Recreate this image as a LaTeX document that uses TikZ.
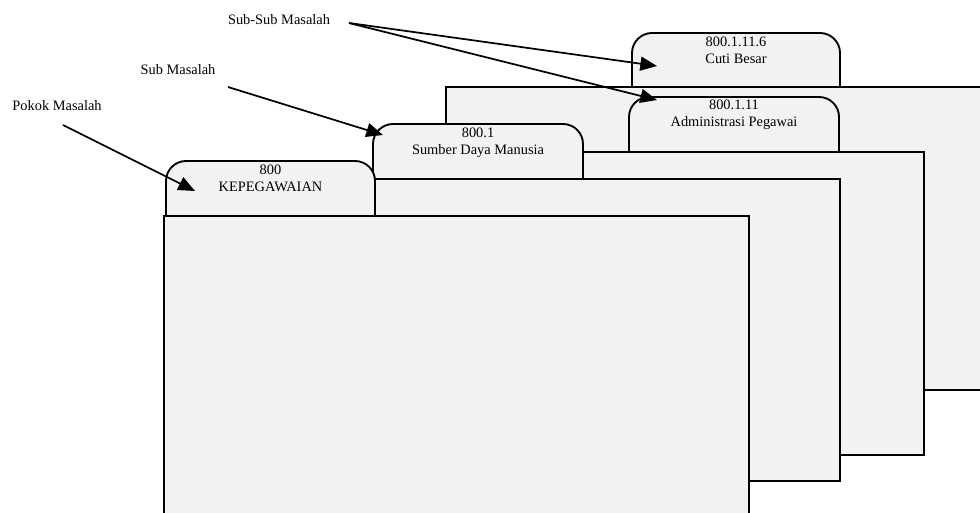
\documentclass[tikz,border=0pt]{standalone}
\usepackage{fontspec}
\setmainfont{Liberation Serif}
\usetikzlibrary{arrows.meta}

\tikzset{
  body/.style={draw, line width=1.4pt, fill=gray!10},
  tab/.style={body, rounded corners=15pt},
  tabtext/.style={anchor=north, align=center, inner sep=0pt,
    font=\fontsize{10.8}{12.2}\selectfont},
  lbl/.style={inner sep=0pt, font=\fontsize{10.8}{12}\selectfont},
  arr/.style={-{Triangle[length=12.5pt,width=10.5pt]}, line width=1.3pt}
}

\begin{document}
\begin{tikzpicture}[x=0.75pt, y=-0.75pt]
  \useasboundingbox (0,0) rectangle (980,513);
  \clip (0,0) rectangle (980,513);
  % folder 4
  \draw[tab] (632,33) rectangle (840,110);
  \draw[body] (446,87) rectangle (1000,390);
  \node[tabtext] (cuti) at (736,37) {800.1.11.6\\Cuti Besar};
  % folder 3
  \draw[tab] (629,97) rectangle (839,170);
  \draw[body] (450,152) rectangle (924,455);
  \node[tabtext] (admin) at (734,100) {800.1.11\\Administrasi Pegawai};
  % folder 2
  \draw[tab] (373,124) rectangle (583,200);
  \draw[body] (250,179) rectangle (840,481);
  \node[tabtext] (sdm) at (478,128) {800.1\\Sumber Daya Manusia};
  % folder 1
  \draw[tab] (166,161) rectangle (375,240);
  \draw[body] (164,216) rectangle (749,530);
  \node[tabtext] (kepeg) at (270.5,165) {800\\KEPEGAWAIAN};
  % labels
  \node[lbl] (pokok) at (57,106) {Pokok Masalah};
  \node[lbl] (sub) at (178,70) {Sub Masalah};
  \node[lbl] (subsub) at (279,20) {Sub-Sub Masalah};
  \coordinate (pokokA) at (63,125);
  \coordinate (subA) at (228,87);
  \coordinate (subsubA) at (349,23);
  \coordinate (kepegB) at (195,191);
  \coordinate (sdmB) at (383,135);
  \coordinate (cutiB) at (657,66);
  \coordinate (adminB) at (657,100);
  \draw[arr] (pokokA) -- (kepegB);
  \draw[arr] (subA) -- (sdmB);
  \draw[arr] (subsubA) -- (cutiB);
  \draw[arr] (subsubA) -- (adminB);
\end{tikzpicture}
\end{document}
